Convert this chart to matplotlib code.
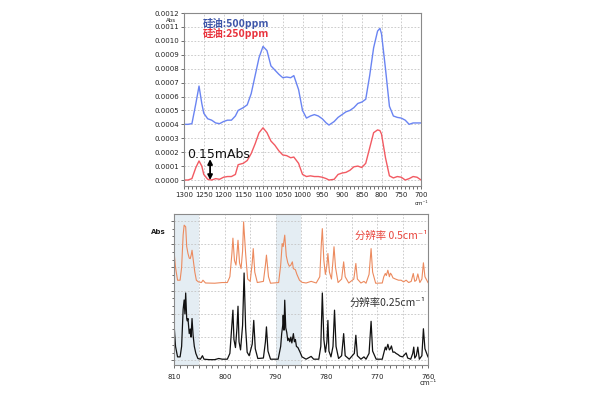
"""Silicone oil IR spectra and resolution comparison."""

import matplotlib

matplotlib.use("Agg")
from matplotlib import pyplot as plt
from matplotlib.ticker import MultipleLocator, FormatStrFormatter

CJK = ["Noto Sans CJK SC", "DejaVu Sans"]

# --- top chart: silicone oil spectra, absorbance in units of 1e-4 ---
top_wn = [1300, 1290, 1280, 1270, 1262, 1255, 1250, 1240, 1230, 1220, 1210,
          1200, 1190, 1180, 1170, 1163, 1150, 1140, 1130, 1120, 1110, 1100,
          1090, 1080, 1070, 1060, 1050, 1040, 1030, 1022, 1010, 1000, 990,
          980, 970, 960, 950, 940, 933, 920, 910, 900, 890, 880, 870, 860,
          850, 840, 830, 820, 810, 804, 800, 790, 780, 770, 760, 750, 740,
          730, 720, 710, 700]
oil_500 = [4.0, 4.0, 4.05, 5.5, 6.75, 5.5, 4.8, 4.4, 4.3, 4.1, 4.05,
           4.2, 4.3, 4.3, 4.6, 5.0, 5.2, 5.4, 6.2, 7.5, 8.8, 9.6,
           9.3, 8.2, 7.9, 7.6, 7.35, 7.4, 7.35, 7.5, 6.5, 5.0, 4.45,
           4.6, 4.7, 4.6, 4.4, 4.1, 3.95, 4.2, 4.5, 4.7, 4.9, 5.0, 5.2, 5.5,
           5.6, 5.8, 7.5, 9.5, 10.7, 10.9, 10.5, 8.0, 5.3, 4.6, 4.5, 4.45, 4.3,
           4.0, 4.1, 4.1, 4.1]
oil_250 = [0.0, 0.0, 0.1, 0.9, 1.37, 1.0, 0.4, 0.05, 0.0, 0.1, 0.05,
           0.2, 0.25, 0.25, 0.4, 1.1, 1.2, 1.4, 1.9, 2.6, 3.4, 3.75,
           3.4, 2.8, 2.5, 2.1, 1.8, 1.75, 1.6, 1.65, 1.2, 0.4, 0.25,
           0.3, 0.25, 0.25, 0.2, 0.1, 0.0, 0.05, 0.4, 0.5, 0.55, 0.7, 0.95, 1.0,
           0.9, 1.2, 2.3, 3.4, 3.6, 3.55, 3.3, 1.6, 0.3, 0.15, 0.25, 0.2, 0.0,
           0.1, 0.25, 0.2, 0.0]

# --- bottom chart: resolution comparison (relative absorbance) ---
res_025_wn = [810.0, 809.7, 809.3, 808.8, 808.5, 808.2, 808.0, 807.85, 807.7,
              807.5, 807.4, 807.25, 807.0, 806.8, 806.65, 806.45, 806.25,
              806.0, 805.7, 805.3, 804.8, 804.4, 804.1, 803.0, 802.0, 801.2,
              800.5, 799.5, 799.0, 798.6, 798.4, 798.2, 797.9, 797.6, 797.4,
              797.2, 796.9, 796.5, 796.2, 795.9, 795.6, 795.2, 794.6, 794.3,
              794.0, 793.5, 792.4, 792.0, 791.8, 791.5, 791.0, 789.5, 789.0,
              788.8, 788.6, 788.5, 788.35, 788.2, 788.0, 787.8, 787.6, 787.4,
              787.2, 787.0, 786.8, 786.5, 786.3, 786.1, 785.9, 785.6, 785.2,
              784.8, 784.0, 783.0, 782.5, 781.5, 781.1, 780.8, 780.5, 780.2,
              779.9, 779.7, 779.5, 779.1, 778.7, 778.4, 778.1, 777.6, 777.0,
              776.6, 776.3, 775.5, 774.5, 774.2, 773.9, 773.2, 772.6, 772.2,
              771.6, 771.2, 770.9, 770.2, 769.0, 768.6, 768.4, 768.2, 767.9,
              767.6, 767.4, 767.2, 766.9, 766.6, 766.3, 765.9, 765.5, 765.0,
              764.6, 764.3, 764.0, 763.4, 763.0, 762.8, 762.6, 762.3, 762.0,
              761.7, 761.2, 760.9, 760.6, 760.0]
res_025 = [1.58, 0.6, 0.15, 0.15, 0.6, 2.2, 2.6, 2.0, 2.9,
           1.8, 1.7, 1.8, 1.15, 1.35, 1.0, 1.8, 1.1,
           0.6, 0.3, 0.08, 0.05, 0.2, 0.05, 0.03, 0.03, 0.08,
           0.05, 0.05, 0.3, 1.5, 2.16, 0.9, 0.55, 1.4, 2.33,
           0.8, 0.45, 1.5, 3.76, 1.4, 0.35, 0.2, 0.7, 1.72,
           0.5, 0.08, 0.1, 0.8, 1.44, 0.4, 0.05, 0.05, 0.6,
           1.15, 1.5, 1.94, 1.3, 2.59, 1.4, 1.2, 0.85, 0.95,
           0.8, 1.0, 0.75, 1.15, 0.8, 0.9, 0.6, 0.55, 0.36,
           0.15, 0.05, 0.17, 0.05, 0.05, 0.6, 2.9, 0.9, 0.35,
           0.8, 1.72, 0.4, 0.15, 0.6, 2.16, 0.6, 0.08, 0.2,
           1.15, 0.2, 0.05, 0.3, 1.08, 0.2, 0.05, 0.15, 0.05,
           0.3, 1.68, 0.4, 0.05, 0.05, 0.4, 0.57, 0.45, 0.69,
           0.45, 0.5, 0.62, 0.35, 0.36, 0.3, 0.25, 0.18, 0.15,
           0.25, 0.32, 0.1, 0.05, 0.3, 0.57, 0.1, 0.2, 0.57,
           0.05, 0.2, 1.36, 0.5, 0.15]

res_05_wn = [810.0, 809.7, 809.3, 808.8, 808.5, 808.2, 808.0, 807.7, 807.5,
             807.25, 807.0, 806.8, 806.6, 806.45, 806.2, 805.9, 805.6, 805.2,
             804.6, 804.3, 803.8, 802.0, 800.5, 799.5, 799.0, 798.6, 798.4,
             798.1, 797.8, 797.6, 797.4, 797.1, 796.8, 796.5, 796.3, 795.9,
             795.5, 795.0, 794.6, 794.4, 794.1, 793.6, 792.4, 792.0, 791.8,
             791.4, 791.0, 789.4, 789.0, 788.7, 788.5, 788.2, 787.9, 787.6,
             787.3, 787.0, 786.7, 786.5, 786.1, 785.8, 785.3, 784.8, 784.0,
             783.0, 782.0, 781.3, 781.0, 780.8, 780.5, 780.2, 779.9, 779.7,
             779.4, 779.0, 778.7, 778.5, 778.2, 777.7, 777.0, 776.6, 776.3,
             775.6, 774.6, 774.2, 773.9, 773.2, 772.6, 772.2, 771.6, 771.2,
             770.9, 770.3, 769.0, 768.7, 768.4, 768.2, 767.9, 767.6, 767.4,
             767.2, 766.9, 766.4, 765.8, 765.3, 764.8, 764.3, 763.8, 763.3,
             762.9, 762.6, 762.3, 762.0, 761.6, 761.2, 760.9, 760.6, 760.0]
res_05 = [4.7, 4.0, 3.45, 3.45, 4.0, 5.4, 5.82, 5.75, 4.9,
          4.6, 4.4, 4.38, 4.55, 4.74, 4.3, 3.8, 3.45, 3.38,
          3.35, 3.45, 3.33, 3.32, 3.35, 3.35, 3.6, 4.6, 5.26,
          4.3, 4.1, 4.6, 5.17, 4.2, 3.95, 4.7, 5.96, 4.6,
          3.5, 3.4, 4.2, 4.81, 3.8, 3.35, 3.4, 4.1, 4.53,
          3.6, 3.32, 3.35, 4.1, 5.03, 4.9, 5.39, 4.5, 4.2,
          4.05, 4.1, 4.24, 3.95, 3.9, 3.7, 3.45, 3.36, 3.33,
          3.4, 3.33, 3.6, 5.0, 5.67, 4.3, 3.7, 4.1, 4.6,
          3.8, 3.5, 4.3, 4.89, 4.0, 3.35, 3.5, 4.24, 3.6,
          3.33, 3.5, 4.17, 3.5, 3.33, 3.4, 3.32, 3.7, 4.81,
          3.8, 3.32, 3.33, 3.6, 3.74, 3.65, 3.88, 3.6, 3.75,
          3.7, 3.55, 3.5, 3.45, 3.45, 3.38, 3.45, 3.35, 3.4,
          3.74, 3.4, 3.45, 3.72, 3.35, 3.5, 4.2, 3.6, 3.35]

shaded_bands = [(810, 805), (790, 785)]

GRID = dict(color="#c4c4c4", linestyle=(0, (2, 2)), linewidth=0.6)


def style_axes(ax):
    for side in ax.spines.values():
        side.set_color("#8a8a8a")
        side.set_linewidth(0.8)
    ax.tick_params(which="both", colors="#555555", labelcolor="#222222",
                   labelsize=5, width=0.6)
    ax.tick_params(which="major", length=2.5)
    ax.tick_params(which="minor", length=1.8)


def plot_top(fig):
    ax = fig.add_axes([0.3067, 0.535, 0.395, 0.4325])
    scale = 1e-4
    ax.plot(top_wn, [v * scale for v in oil_500], color="#6a84f2", lw=1.0)
    ax.plot(top_wn, [v * scale for v in oil_250], color="#f25a62", lw=1.0)
    ax.set_xlim(1300, 700)
    ax.set_ylim(-0.000043, 0.0012)
    ax.xaxis.set_major_locator(MultipleLocator(50))
    ax.xaxis.set_minor_locator(MultipleLocator(10))
    ax.yaxis.set_major_locator(MultipleLocator(0.0001))
    ax.yaxis.set_major_formatter(FormatStrFormatter("%.4f"))
    ax.grid(True, which="major", **GRID)
    ax.set_axisbelow(True)
    style_axes(ax)
    ax.tick_params(axis="x", pad=1.5)
    ax.tick_params(axis="y", pad=1)

    ax.text(-0.035, 0.955, "Abs", transform=ax.transAxes, fontsize=4,
            ha="right", va="center", color="#222222")
    ax.text(1.0, -0.1, "cm⁻¹", transform=ax.transAxes, fontsize=4,
            ha="center", va="center", color="#222222")

    ax.text(1252, 0.001126, "硅油:500ppm", family=CJK, fontsize=7.5,
            fontweight="bold", color="#3d55a8", va="center")
    ax.text(1252, 0.001052, "硅油:250ppm", family=CJK, fontsize=7.5,
            fontweight="bold", color="#e8323c", va="center")

    ax.annotate("", xy=(1234, 0.0), xytext=(1234, 0.00015),
                arrowprops=dict(arrowstyle="<|-|>", color="black", lw=1.3,
                                mutation_scale=7, shrinkA=0, shrinkB=0))
    ax.text(1293, 0.000186, "0.15mAbs", fontsize=9, color="#111111",
            va="center", ha="left")


def plot_bottom(fig):
    ax = fig.add_axes([0.29, 0.0875, 0.4233, 0.3775])
    for hi, lo in shaded_bands:
        ax.axvspan(hi, lo, color="#e4edf3", lw=0, zorder=0)
    ax.plot(res_05_wn, res_05, color="#ec8a5e", lw=0.8)
    ax.plot(res_025_wn, res_025, color="#111111", lw=0.9)
    ax.set_xlim(810, 760)
    ax.set_ylim(-0.2, 6.3)
    ax.xaxis.set_major_locator(MultipleLocator(10))
    ax.xaxis.set_minor_locator(MultipleLocator(1.25))
    ax.yaxis.set_major_locator(MultipleLocator(1))
    ax.yaxis.set_minor_locator(MultipleLocator(1 / 3))
    ax.yaxis.set_major_formatter(FormatStrFormatter(""))
    ax.grid(True, which="major", axis="y", **GRID)
    ax.xaxis.set_minor_locator(MultipleLocator(1.25))
    for wn in range(805, 760, -5):
        ax.axvline(wn, zorder=0.5, **GRID)
    style_axes(ax)
    ax.tick_params(axis="x", pad=4)

    ax.text(-0.06, 0.88, "Abs", transform=ax.transAxes, fontsize=5,
            fontweight="bold", ha="center", va="center", color="#222222")
    ax.text(1.0, -0.12, "cm⁻¹", transform=ax.transAxes, fontsize=5,
            ha="center", va="center", color="#222222")
    ax.text(774.4, 5.36, "分辨率 0.5cm⁻¹", family=CJK, fontsize=7.5,
            color="#e8453c", va="center")
    ax.text(775.4, 2.47, "分辨率0.25cm⁻¹", family=CJK, fontsize=7.5,
            color="#333333", va="center")


def main(output_file: str = "out.png"):
    fig = plt.figure(figsize=(6, 4), dpi=100)
    plot_top(fig)
    plot_bottom(fig)
    fig.savefig(output_file, dpi=100, facecolor="white")


if __name__ == "__main__":
    main()
